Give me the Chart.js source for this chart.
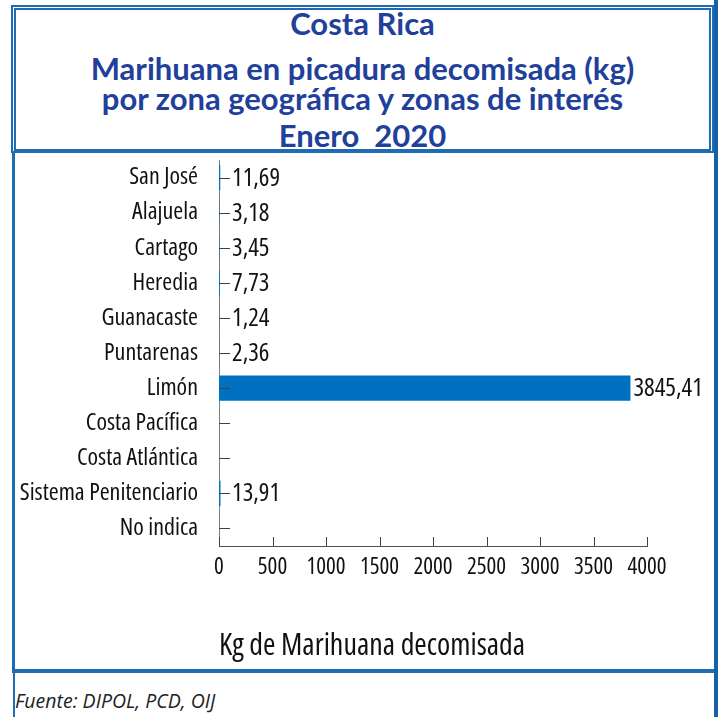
<!DOCTYPE html>
<html lang="es">
<head>
<meta charset="utf-8">
<title>Marihuana en picadura decomisada</title>
<script src="https://cdn.jsdelivr.net/npm/chart.js@4/dist/chart.umd.min.js"></script>
<style>
  body {
    margin: 0;
    width: 718px;
    height: 717px;
    position: relative;
    overflow: hidden;
    background: #fff;
  }
  .marco { position: absolute; box-sizing: border-box; }
  .linea { position: absolute; background: #1E6DB4; }
  .titulo {
    position: absolute;
    left: 11px;
    width: 703px;
    text-align: center;
    font-family: Lato, 'Open Sans', sans-serif;
    font-weight: bold;
    font-size: 31px;
    line-height: 30px;
    color: #21409A;
    white-space: nowrap;
  }
  .fuente {
    position: absolute;
    left: 15px;
    top: 687px;
    font-family: 'Open Sans', sans-serif;
    font-style: italic;
    font-size: 19.5px;
    color: #222;
  }
  #wrap { position: absolute; left: 15px; top: 153px; width: 695px; height: 516px; }
</style>
</head>
<body>
  <!-- recuadro del título -->
  <div class="marco" style="left:11px; top:5px; width:703px; height:148px;
       border-top:5px double #1E6DB4; border-left:5px double #1E6DB4;
       border-right:5px double #1E6DB4; border-bottom:4px solid #1E6DB4;"></div>
  <div class="linea" style="left:714px; top:0; width:4px; height:717px; background:#1760A6;"></div>
  <div class="linea" style="left:12px; top:153px; width:3px; height:520px;"></div>
  <div class="linea" style="left:12px; top:669px; width:702px; height:4px;"></div>
  <div class="linea" style="left:13px; top:673px; width:2px; height:44px;"></div>

  <div class="titulo" style="top:8px;">Costa Rica</div>
  <div class="titulo" style="top:53px;">Marihuana en picadura decomisada (kg)</div>
  <div class="titulo" style="top:83px;">por zona geográfica y zonas de interés</div>
  <div class="titulo" style="top:120px;">Enero&nbsp; 2020</div>

  <div id="wrap"><canvas id="grafico" width="695" height="516"></canvas></div>

  <div class="fuente">Fuente: DIPOL, PCD, OIJ</div>

<script>
// datos
const zonas = ['San José', 'Alajuela', 'Cartago', 'Heredia', 'Guanacaste', 'Puntarenas',
    'Limón', 'Costa Pacífica', 'Costa Atlántica', 'Sistema Penitenciario', 'No indica'];
const kilos = [11.69, 3.18, 3.45, 7.73, 1.24, 2.36, 3845.41, null, null, 13.91, null];
const ejeMin = 0;
const ejeMax = 4000;
const ejePaso = 500;
const tituloEje = 'Kg de Marihuana decomisada';

// Open Sans estrecha (eje wdth al 75%)
const familia = "'Open Sans', sans-serif";
const estrecha = 'condensed';

// marcas de los ejes hacia dentro
const marcasPlugin = {
    id: 'marcas',
    afterDatasetsDraw(chart) {
        const ctx = chart.ctx;
        const area = chart.chartArea;
        const y = chart.scales.y;
        const x = chart.scales.x;
        ctx.save();
        ctx.strokeStyle = '#404040';
        ctx.lineWidth = 1;
        y.ticks.forEach((t, i) => {
            const py = Math.round(y.getPixelForTick(i)) + 0.5;
            ctx.beginPath();
            ctx.moveTo(area.left, py);
            ctx.lineTo(area.left + 11, py);
            ctx.stroke();
        });
        x.ticks.forEach((t, i) => {
            const px = Math.round(x.getPixelForTick(i)) + 0.5;
            ctx.beginPath();
            ctx.moveTo(px, area.bottom);
            ctx.lineTo(px, area.bottom - 9);
            ctx.stroke();
        });
        ctx.restore();
    }
};

// etiquetas de valor
const etiquetasPlugin = {
    id: 'etiquetas',
    afterDatasetsDraw(chart) {
        const ctx = chart.ctx;
        const area = chart.chartArea;
        const meta = chart.getDatasetMeta(0);
        ctx.save();
        ctx.font = estrecha + ' 25px ' + familia;
        ctx.fillStyle = '#111';
        ctx.textAlign = 'left';
        ctx.textBaseline = 'middle';
        meta.data.forEach((bar, i) => {
            const v = kilos[i];
            if (v === null) return;
            const px = Math.max(bar.x + 3, area.left + 13);
            ctx.fillText(v.toFixed(2).replace('.', ','), px, bar.y + 1);
        });
        ctx.restore();
    }
};

window.onload = function() {
    const ctx = document.getElementById('grafico').getContext('2d');
    new Chart(ctx, {
        type: 'bar',
        data: {
            labels: zonas,
            datasets: [{
                data: kilos,
                backgroundColor: '#0070C0',
                borderWidth: 0,
                categoryPercentage: 1,
                barPercentage: 0.72
            }]
        },
        options: {
            indexAxis: 'y',
            responsive: false,
            animation: false,
            layout: { padding: { left: 0, right: 63, top: 7, bottom: 0 } },
            plugins: {
                legend: { display: false },
                tooltip: { enabled: false }
            },
            scales: {
                y: {
                    grid: { display: false, drawTicks: false },
                    border: { display: true, color: '#808080', width: 1 },
                    ticks: {
                        color: '#111',
                        padding: 21,
                        font: { family: familia, weight: estrecha, size: 24 }
                    },
                    afterFit(scale) {
                        scale.width = 204;
                        scale.paddingTop = 0;
                        scale.paddingBottom = 0;
                    }
                },
                x: {
                    min: ejeMin,
                    max: ejeMax,
                    grid: { display: false, drawTicks: false },
                    border: { display: true, color: '#505050', width: 1 },
                    ticks: {
                        stepSize: ejePaso,
                        maxRotation: 0,
                        autoSkip: false,
                        color: '#111',
                        padding: 8,
                        font: { family: familia, weight: estrecha, size: 23 },
                        callback: (v) => String(v)
                    },
                    title: {
                        display: true,
                        text: tituloEje,
                        align: 'start',
                        color: '#111',
                        padding: { top: 0, bottom: 5 },
                        font: { family: familia, weight: estrecha, size: 30 }
                    },
                    afterFit(scale) {
                        scale.height = 123;
                        scale.paddingLeft = 0;
                        scale.paddingRight = 0;
                    }
                }
            }
        },
        plugins: [marcasPlugin, etiquetasPlugin]
    });
};
</script>
</body>
</html>
